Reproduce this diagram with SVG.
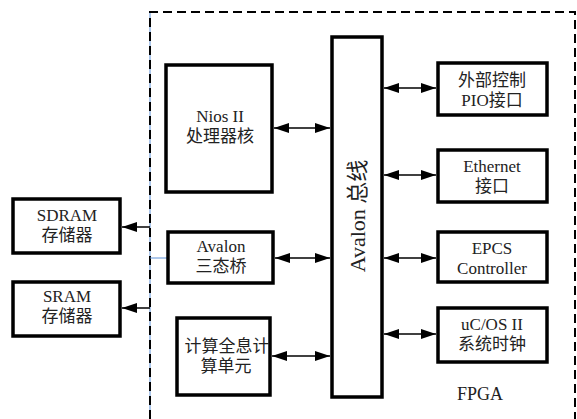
<svg xmlns="http://www.w3.org/2000/svg" width="577" height="419" viewBox="0 0 577 419">
<style>
.box{fill:#fff;stroke:#000;stroke-width:3.5}
.t{font-family:'Liberation Serif','Times New Roman','DejaVu Serif','Noto Sans CJK SC',serif;font-size:17px;fill:#222;text-anchor:middle}
.c{stroke:#000;stroke-width:1.5;fill:none}
</style>
<defs>
<marker id="ah" viewBox="0 0 15 10" refX="15" refY="5" markerWidth="15" markerHeight="10" markerUnits="userSpaceOnUse" orient="auto-start-reverse">
<path d="M0,0 L15,5 L0,10 Z" fill="#000"/>
</marker>
</defs>
<rect width="577" height="419" fill="#fff"/>
<g id="fpga">
<line x1="150" y1="12" x2="150" y2="419" stroke="#5b8fd6" stroke-width="1"/>
<path d="M150,419 V12 H575 V419" fill="none" stroke="#000" stroke-width="2" stroke-dasharray="9,5"/>
<text class="t" x="480" y="400" style="font-size:18px">FPGA</text>
</g>
<g id="connectors">
<line class="c" x1="274" y1="128" x2="330" y2="128" marker-start="url(#ah)" marker-end="url(#ah)"/>
<line class="c" x1="275" y1="258" x2="330" y2="258" marker-start="url(#ah)" marker-end="url(#ah)"/>
<line class="c" x1="272" y1="356" x2="330" y2="356" marker-start="url(#ah)" marker-end="url(#ah)"/>
<line class="c" x1="384" y1="88" x2="436" y2="88" marker-start="url(#ah)" marker-end="url(#ah)"/>
<line class="c" x1="384" y1="175" x2="436" y2="175" marker-start="url(#ah)" marker-end="url(#ah)"/>
<line class="c" x1="384" y1="258" x2="436" y2="258" marker-start="url(#ah)" marker-end="url(#ah)"/>
<line class="c" x1="384" y1="334" x2="436" y2="334" marker-start="url(#ah)" marker-end="url(#ah)"/>
<line class="c" x1="150" y1="227" x2="122" y2="227" marker-end="url(#ah)"/>
<line class="c" x1="150" y1="308" x2="122" y2="308" marker-end="url(#ah)"/>
<line x1="150" y1="258" x2="167" y2="258" stroke="#5b8fd6" stroke-width="1"/>
</g>
<g id="nios">
<rect class="box" x="166" y="65" width="106" height="127"/>
<text class="t" x="220" y="122">Nios II</text>
<text class="t" x="220" y="142">处理器核</text>
</g>
<g id="bus">
<rect class="box" x="332" y="37" width="50" height="360"/>
<text class="t" style="font-size:22px" transform="translate(365,216) rotate(-90)">Avalon 总线</text>
</g>
<g id="pio">
<rect class="box" x="438" y="63" width="109" height="52"/>
<text class="t" x="492" y="86">外部控制</text>
<text class="t" x="492" y="106">PIO接口</text>
</g>
<g id="eth">
<rect class="box" x="438" y="150" width="109" height="52"/>
<text class="t" x="492" y="172">Ethernet</text>
<text class="t" x="492" y="192">接口</text>
</g>
<g id="epcs">
<rect class="box" x="438" y="232" width="109" height="50"/>
<text class="t" x="492" y="254">EPCS</text>
<text class="t" x="492" y="274">Controller</text>
</g>
<g id="ucos">
<rect class="box" x="438" y="308" width="109" height="54"/>
<text class="t" x="492" y="330">uC/OS II</text>
<text class="t" x="492" y="350">系统时钟</text>
</g>
<g id="sdram">
<rect class="box" x="13" y="199" width="107" height="54"/>
<text class="t" x="67" y="221">SDRAM</text>
<text class="t" x="67" y="241">存储器</text>
</g>
<g id="sram">
<rect class="box" x="13" y="282" width="107" height="54"/>
<text class="t" x="67" y="302">SRAM</text>
<text class="t" x="67" y="322">存储器</text>
</g>
<g id="bridge">
<rect class="box" x="168" y="232" width="105" height="51"/>
<text class="t" x="221" y="252">Avalon</text>
<text class="t" x="221" y="272">三态桥</text>
</g>
<g id="compute">
<rect class="box" x="177" y="318" width="93" height="77"/>
<text class="t" x="227" y="352">计算全息计</text>
<text class="t" x="226" y="372">算单元</text>
</g>
</svg>
